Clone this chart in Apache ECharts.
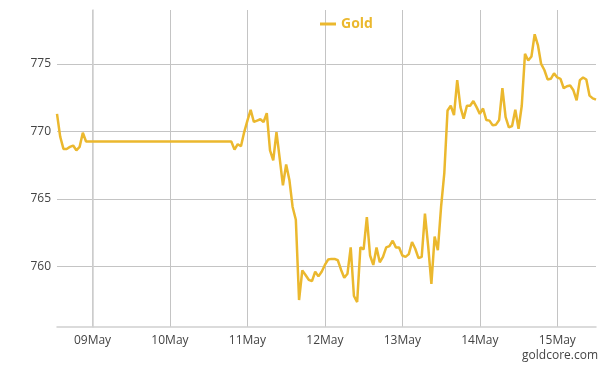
<!DOCTYPE html>
<html><head><meta charset="utf-8">
<script src="https://cdn.jsdelivr.net/npm/echarts@6/dist/echarts.min.js"></script>
<style>html,body{margin:0;padding:0;background:#fff}#c{width:616px;height:371px}</style>
</head><body><div id="c"></div>
<script>
// hours relative to 09 May 00:00
const hours = [-11,-10,-9,-8,-7,-6,-5,-4,-3,-2,
  43,44,45,46,47,48,49,50,51,52,53,54,55,56,57,58,59,60,61,62,63,64,65,66,67,68,69,70,
  71,72,73,74,75,76,77,78,79,80,81,82,83,84,85,86,87,88,89,90,91,92,93,94,95,96,97,98,99,100,
  101,102,103,104,105,106,107,108,109,110,111,112,113,114,115,116,117,118,119,120,
  121,122,123,124,125,126,127,128,129,130,131,132,133,134,135,136,137,138,139,140,
  141,142,143,144,145,146,147,148,149,150,151,152,153,154,155,156];
const prices = [771.3,769.6,768.7,768.7,768.85,768.95,768.6,768.85,769.9,769.25,
  769.25,768.65,769.05,768.9,769.95,770.8,771.6,770.7,770.8,770.9,770.7,771.35,768.6,767.85,769.95,768.0,766.0,767.55,766.4,764.4,763.45,757.5,759.7,759.35,759.0,758.9,759.6,759.25,
  759.6,760.1,760.5,760.55,760.55,760.45,759.75,759.15,759.45,761.4,757.8,757.35,761.4,761.25,763.65,760.8,760.1,761.4,760.3,760.7,761.4,761.5,761.9,761.4,761.4,760.8,760.7,760.9,761.8,761.3,
  760.6,760.7,763.9,761.5,758.7,762.2,761.2,764.4,766.9,771.55,771.9,771.2,773.8,771.8,770.95,771.9,771.9,772.25,771.8,771.3,
  771.7,770.85,770.8,770.45,770.5,770.85,773.2,771.05,770.3,770.4,771.6,770.2,771.9,775.75,775.25,775.55,777.2,776.4,775.0,774.55,
  773.85,773.9,774.3,774.0,773.9,773.2,773.35,773.4,773.05,772.3,773.8,774.0,773.85,772.65,772.45,772.35];
const dayLabels = ['09May','10May','11May','12May','13May','14May','15May'];
const yTicks = [760,765,770,775];
const seriesName = 'Gold';

const dayTicks = dayLabels.map((_, i) => i * 24);
const gold = '#EBB82E';
const font = '"Open Sans", sans-serif';
const chart = echarts.init(document.getElementById('c'), null, {renderer:'canvas'});
chart.setOption({
  animation: false,
  backgroundColor: '#fff',
  grid: {left: 57, right: 20, top: 10, bottom: 44, containLabel: false},
  legend: {
    top: 12, left: 315, icon: 'rect', itemWidth: 16, itemHeight: 3, itemGap: 10,
    textStyle: {color: gold, fontWeight: 'bold', fontSize: 14, fontFamily: font},
    data: [seriesName]
  },
  xAxis: {
    type: 'value', min: -11, max: 156,
    axisLine: {show: true, lineStyle: {color: '#cfcfcf', width: 1.5}},
    axisTick: {show: false, customValues: dayTicks},
    axisLabel: {customValues: dayTicks, color: '#444', fontSize: 12, fontFamily: font, margin: 8,
      formatter: v => dayLabels[Math.round(v / 24)] || ''},
    splitLine: {show: true, lineStyle: {color: '#c4c4c4', width: 1}}
  },
  yAxis: {
    type: 'value', min: 755.5, max: 779,
    axisLine: {show: true, lineStyle: {color: '#cfcfcf', width: 1.5}},
    axisTick: {show: false, customValues: yTicks},
    axisLabel: {customValues: yTicks, color: '#444', fontSize: 12, fontFamily: font, margin: 6},
    splitLine: {show: true, lineStyle: {color: '#c4c4c4', width: 1}}
  },
  graphic: [{type: 'text', right: 18, top: 350,
    style: {text: 'goldcore.com', fill: '#444', font: '12px ' + font}}],
  series: [{
    name: seriesName, type: 'line', showSymbol: false, symbol: 'none',
    data: hours.map((h, i) => [h, prices[i]]),
    lineStyle: {color: gold, width: 2.5}, itemStyle: {color: gold}
  }]
});
</script></body></html>
